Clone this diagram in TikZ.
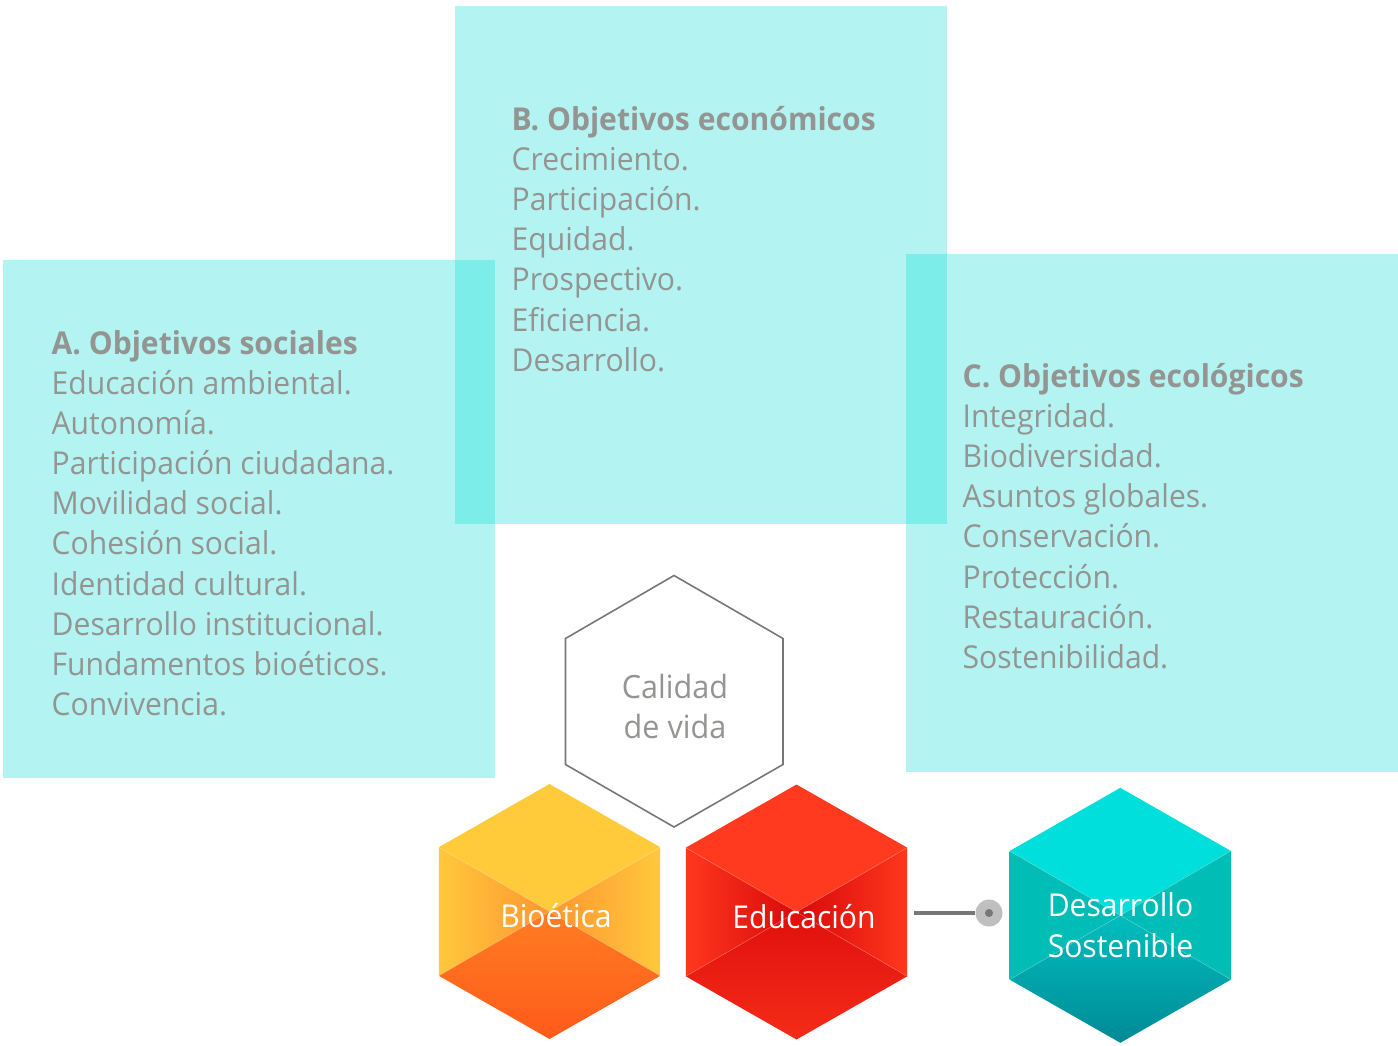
\documentclass[tikz,border=0pt]{standalone}
\usepackage{fontspec}
\setmainfont{Open Sans}[FakeStretch=0.955]
\usetikzlibrary{shapes.geometric}
\definecolor{panel}{HTML}{B3F3F1}
\definecolor{overlap}{HTML}{7CEDE8}
\definecolor{txt}{HTML}{949492}
\definecolor{outline}{HTML}{77777A}
\definecolor{ringgrey}{HTML}{BFBFBF}
\tikzset{
  panelbox/.style={fill=panel,draw=none},
  overlapbox/.style={fill=overlap,draw=none},
  blocktext/.style={anchor=north west,align=left,inner sep=0pt,text=txt,font=\fontsize{31.5}{40.15}\selectfont},
  hexlabel/.style={align=center,inner sep=0pt,text=white,font=\fontsize{31.5}{41}\selectfont},
  gridline/.style={draw=white,draw opacity=.22,line width=.6pt},
}
\newcommand{\hexcube}[8]{%
  % name, cx, cy, top colour, outer side, inner side, bottom upper, bottom lower
  \definecolor{#1top}{HTML}{#4}%
  \definecolor{#1out}{HTML}{#5}%
  \definecolor{#1inn}{HTML}{#6}%
  \definecolor{#1bta}{HTML}{#7}%
  \definecolor{#1btb}{HTML}{#8}%
  \begin{scope}[shift={(#2,#3)}]
    \coordinate (#1-c) at (0,0);
    \coordinate (#1-t) at (0,-127.5);
    \coordinate (#1-b) at (0,127.5);
    \coordinate (#1-ul) at (-110.7,-64.3);
    \coordinate (#1-ur) at (110.7,-64.3);
    \coordinate (#1-ll) at (-110.7,64.3);
    \coordinate (#1-lr) at (110.7,64.3);
    \fill[#1top] (#1-ul) -- (#1-t) -- (#1-ur) -- (#1-c) -- cycle;
    \shade[left color=#1out,middle color=#1out!75!#1inn,right color=#1inn] (#1-ul) -- (#1-c) -- (#1-ll) -- cycle;
    \shade[left color=#1inn,middle color=#1out!75!#1inn,right color=#1out] (#1-ur) -- (#1-c) -- (#1-lr) -- cycle;
    \shade[top color=#1bta,bottom color=#1btb] (#1-ll) -- (#1-c) -- (#1-lr) -- (#1-b) -- cycle;
    \draw[gridline] (#1-ul) -- (#1-lr) (#1-ur) -- (#1-ll);
  \end{scope}}
\begin{document}
\begin{tikzpicture}[x=1pt,y=-1pt]
\useasboundingbox (0,0) rectangle (1398,1045);
\fill[panelbox] (3,260) rectangle (495,778);
\fill[panelbox] (455,6) rectangle (947,524);
\fill[panelbox] (906,254) rectangle (1398,772);
\fill[overlapbox] (455,260) rectangle (495,524);
\fill[overlapbox] (906,254) rectangle (947,524);
\node[blocktext] (textA) at (51.5,330) {\textbf{A. Objetivos sociales}\\Educación ambiental.\\Autonomía.\\Participación ciudadana.\\Movilidad social.\\Cohesión social.\\Identidad cultural.\\Desarrollo institucional.\\Fundamentos bioéticos.\\Convivencia.};
\node[blocktext] (textB) at (511.5,106) {\textbf{B. Objetivos económicos}\\Crecimiento.\\Participación.\\Equidad.\\Prospectivo.\\Eficiencia.\\Desarrollo.};
\node[blocktext] (textC) at (962.5,363) {\textbf{C. Objetivos ecológicos}\\Integridad.\\Biodiversidad.\\Asuntos globales.\\Conservación.\\Protección.\\Restauración.\\Sostenibilidad.};
\draw[outline,line width=1.6pt,line join=miter] (674,575.5) -- (783,638.5) -- (783,764.5) -- (674,827) -- (565.5,764.5) -- (565.5,638.5) -- cycle;
\node[hexlabel,text=txt,font=\fontsize{32}{40}\selectfont] (calidad) at (675,706.5) {Calidad\\de vida};
\hexcube{bio}{549.5}{911.5}{FFCB3B}{FFC83C}{FF9630}{FF7D22}{FF5A1A}
\hexcube{edu}{796.5}{912}{FF3A1E}{FF361E}{D80A0A}{E00F0D}{F52C18}
\hexcube{sos}{1120.3}{915.3}{00DFDB}{00BEB5}{00BCB8}{00BEBE}{008A96}
\node[hexlabel] (bioet) at (556,916) {Bioética};
\node[hexlabel] (educ) at (804,917) {Educación};
\node[hexlabel] (desa) at (1120.5,925) {Desarrollo\\Sostenible};
\coordinate (linestart) at (914,913);
\node[circle,fill=ringgrey,draw=none,minimum size=27pt,inner sep=0pt] (ring) at (989,913) {};
\node[circle,fill=outline,draw=none,minimum size=8pt,inner sep=0pt] (dot) at (989,913) {};
\draw[outline,line width=3.6pt] (linestart) -- (ring);
\end{tikzpicture}
\end{document}
